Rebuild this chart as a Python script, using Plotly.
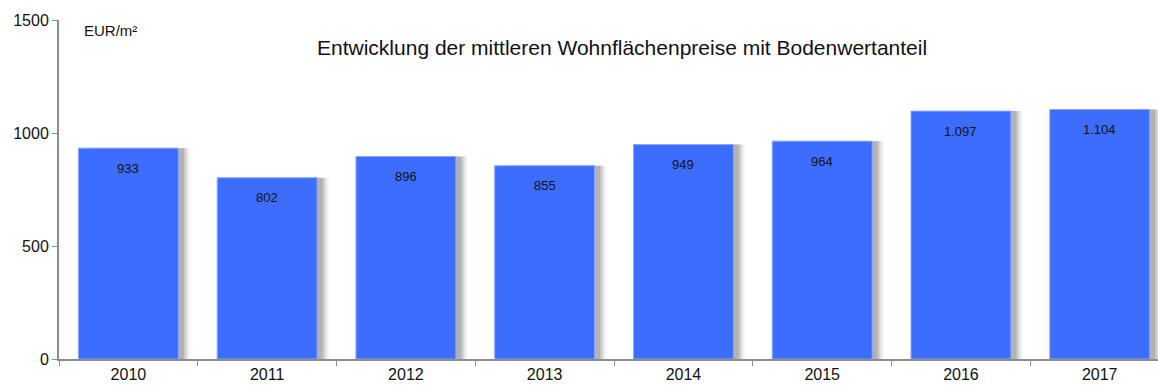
import plotly.graph_objects as go

years = ["2010", "2011", "2012", "2013", "2014", "2015", "2016", "2017"]
prices = [933, 802, 896, 855, 949, 964, 1097, 1104]
y_ticks = [0, 500, 1000, 1500]

bar_color = "#3D6DFF"
font_family = "Liberation Sans, Arial, sans-serif"


def de_format(v):
    return f"{v:,}".replace(",", ".")


fig = go.Figure()

# soft drop shadow to the right of each bar
for off, alpha in [(0.085, 0.06), (0.07, 0.11), (0.055, 0.16), (0.04, 0.2)]:
    fig.add_trace(go.Bar(
        x=years, y=prices, width=0.72, offset=-0.36 + off,
        marker=dict(color=f"rgba(80,80,80,{alpha})", line=dict(width=0)),
        hoverinfo="skip", showlegend=False,
    ))

fig.add_trace(go.Bar(
    x=years, y=prices, width=0.72, offset=-0.36,
    marker=dict(color=bar_color, line=dict(color="#8AA6FF", width=1)),
    showlegend=False,
))

# value labels inside the bars, just below the top edge
for i, v in enumerate(prices):
    fig.add_annotation(
        x=i, y=v, text=de_format(v), showarrow=False,
        yanchor="middle", yshift=-20,
        font=dict(family=font_family, size=13, color="#111"),
    )

fig.add_annotation(
    xref="paper", yref="paper", x=0.021, y=1.0, xanchor="left", yanchor="top",
    yshift=0, text="EUR/m²", showarrow=False,
    font=dict(family=font_family, size=15, color="#111"),
)
fig.add_annotation(
    xref="paper", x=0.512, yref="paper", y=0.92, xanchor="center", yanchor="middle",
    text="Entwicklung der mittleren Wohnflächenpreise mit Bodenwertanteil",
    showarrow=False, font=dict(family=font_family, size=21, color="#111"),
)

fig.update_layout(
    width=1158, height=386,
    margin=dict(l=59, r=0, t=20, b=27),
    paper_bgcolor="white", plot_bgcolor="white",
    barmode="overlay",
    font=dict(family=font_family, size=16, color="#111"),
)
fig.update_xaxes(
    type="category", range=[-0.5, 7.42],
    showline=True, linecolor="#8c8c8c", linewidth=2,
    ticks="outside", tickson="boundaries", ticklen=5, tickcolor="#8c8c8c",
    showgrid=False, tickfont=dict(size=16),
)
fig.update_yaxes(
    range=[0, 1500], tickvals=y_ticks,
    showline=True, linecolor="#8c8c8c", linewidth=2,
    ticks="outside", ticklen=5, tickcolor="#8c8c8c",
    showgrid=False, zeroline=False, tickfont=dict(size=16),
)

fig.write_html("out.html")
